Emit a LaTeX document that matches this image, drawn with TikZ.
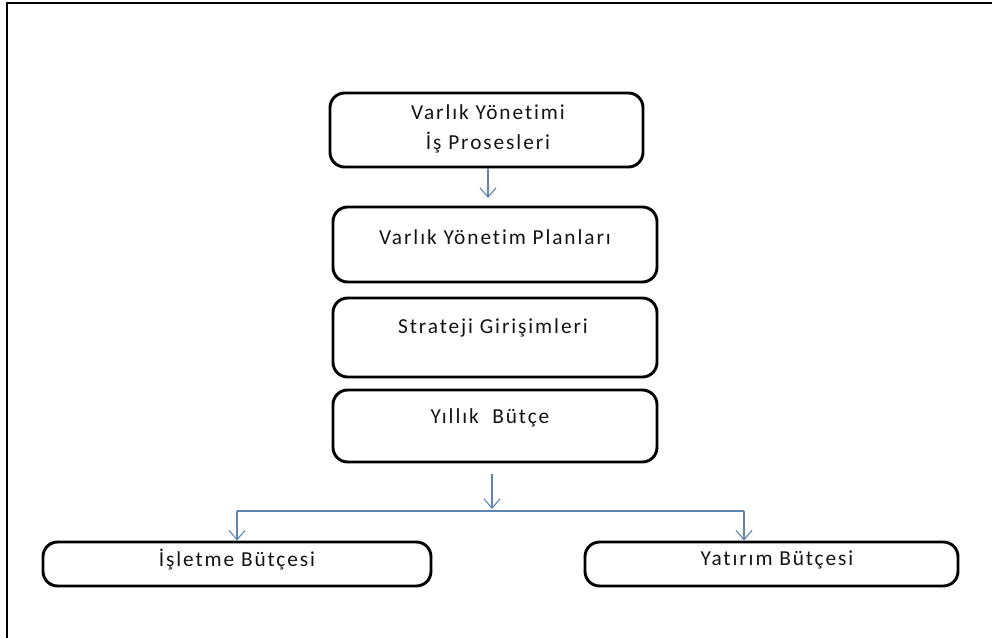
\documentclass[tikz,border=0pt]{standalone}
\usepackage{fontspec}
\setmainfont{Carlito}
\newfontfamily\boxfont[LetterSpace=9,Ligatures={NoCommon,NoRare}]{Carlito}
\usetikzlibrary{arrows.meta}
\definecolor{flowblue}{RGB}{96,132,178}
\definecolor{inkgray}{RGB}{20,20,20}
\begin{document}
\begin{tikzpicture}[x=0.75pt,y=-0.75pt,
  card/.style={draw=black, line width=2.2pt, rounded corners=11pt, fill=white, inner sep=0pt},
  caption/.style={font=\boxfont\fontsize{16pt}{19pt}\selectfont, text=inkgray, inner sep=0pt},
  flow/.style={draw=flowblue, line width=0.8pt, -{Straight Barb[length=7pt,width=12pt,line width=0.8pt]}},
  link/.style={draw=flowblue, line width=0.8pt}]
\useasboundingbox (0,0) rectangle (992,638);
\fill[white] (0,0) rectangle (992,638);
% page frame
\draw[line width=1.6pt] (7,640) -- (7,3) -- (995,3);

% boxes
\node[card, minimum width=313*0.75pt, minimum height=74*0.75pt] (b1) at (486.5,130) {};
\node[card, minimum width=324*0.75pt, minimum height=75*0.75pt] (b2) at (495,244.5) {};
\node[card, minimum width=324*0.75pt, minimum height=79*0.75pt] (b3) at (495,337.5) {};
\node[card, minimum width=324*0.75pt, minimum height=72*0.75pt] (b4) at (495,426) {};
\node[card, minimum width=388*0.75pt, minimum height=44*0.75pt] (b5) at (237,564) {};
\node[card, minimum width=373*0.75pt, minimum height=44*0.75pt] (b6) at (771.5,564) {};

% texts
\node[caption] (t1a) at (488,112) {Varlık Yönetimi};
\node[caption] (t1b) at (488,143) {İş Prosesleri};
\node[caption] (t2) at (495,237) {Varlık Yönetim Planları};
\node[caption] (t3) at (493,328) {Strateji Girişimleri};
\node[caption] (t4) at (490,418) {Yıllık\ \ Bütçe};
\node[caption] (t5) at (237,560) {İşletme Bütçesi};
\node[caption] (t6) at (777,560) {Yatırım Bütçesi};

% connectors
\coordinate (a1) at (488,198);
\draw[flow] (b1.south -| a1) -- (a1);

\coordinate (a2) at (492,509);
\coordinate (left) at (237,511);
\coordinate (right) at (744,511);
\draw[flow] (b4.south -| a2) ++(0,11) -- (a2);
\draw[link] (left) -- (right);
\draw[flow] (left) -- (b5.north -| left);
\draw[flow] (right) -- (b6.north -| right);
\end{tikzpicture}
\end{document}
